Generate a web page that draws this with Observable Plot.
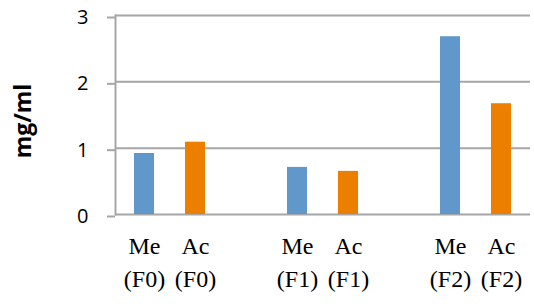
<!DOCTYPE html>
<html>
<head>
<meta charset="utf-8">
<script src="https://cdn.jsdelivr.net/npm/d3@7"></script>
<script src="https://cdn.jsdelivr.net/npm/@observablehq/plot@0.6"></script>
<style>
  html, body { margin: 0; padding: 0; background: #fff; }
</style>
</head>
<body>
<div id="chart"></div>
<script>
const labels = ["Me\n(F0)", "Ac\n(F0)", "Me\n(F1)", "Ac\n(F1)", "Me\n(F2)", "Ac\n(F2)"];
const solvents = ["Me", "Ac", "Me", "Ac", "Me", "Ac"];
const values = [0.92, 1.09, 0.71, 0.65, 2.68, 1.67];
const yTicks = [0, 1, 2, 3];
const yLabel = "mg/ml";

const data = labels.map((l, i) => ({label: l, solvent: solvents[i], value: values[i]}));
const xDomain = [labels[0], labels[1], "gap1", labels[2], labels[3], "gap2", labels[4], labels[5]];

const gridColor = "#a6a6a6";

const chart = Plot.plot({
  width: 534,
  height: 306,
  marginLeft: 115,
  marginRight: 4,
  marginTop: 15,
  marginBottom: 92,
  style: {background: "#fff"},
  x: {domain: xDomain, paddingInner: 0.6, paddingOuter: 0.3, axis: null},
  y: {domain: [0, 3], axis: null},
  color: {domain: ["Me", "Ac"], range: ["#6198cc", "#ec7f00"]},
  marks: [
    Plot.ruleY(yTicks, {stroke: gridColor, strokeWidth: 2, strokeOpacity: 1}),
    Plot.axisY(yTicks, {
      anchor: "left", tickSize: 8, tickPadding: 19, stroke: gridColor, strokeWidth: 2,
      strokeOpacity: 1, fontSize: 20, fontFamily: "Open Sans", fill: "#000", dy: 2,
      tickFormat: d3.format("d"), label: null
    }),
    Plot.frame({anchor: "left", stroke: gridColor, strokeWidth: 2}),
    Plot.barY(data, {x: "label", y: "value", fill: "solvent"}),
    Plot.axisX({
      anchor: "bottom", tickSize: 0, tickPadding: 16,
      tickFormat: d => d.startsWith("gap") ? "" : d,
      fontSize: 24, fontFamily: "Liberation Serif", fill: "#000", lineHeight: 1.375, label: null
    }),
    Plot.text([yLabel], {
      frameAnchor: "left", textAnchor: "middle", rotate: -90, dx: -92, dy: 6,
      fontSize: 23, fontWeight: "bold", fontFamily: "Open Sans", fill: "#000"
    })
  ]
});
document.getElementById("chart").appendChild(chart);
</script>
</body>
</html>
